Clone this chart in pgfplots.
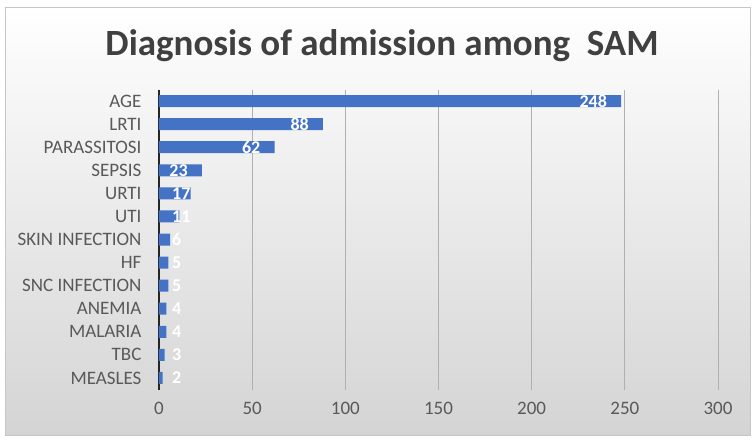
\documentclass[border=0pt]{standalone}
\usepackage{pgfplots}
\pgfplotsset{compat=1.18}
\usepackage{pgfplotstable}
\usepackage{fontspec}
\setmainfont{Carlito}

\definecolor{barblue}{HTML}{4472C4}
\definecolor{labelgray}{HTML}{595959}
\definecolor{titlegray}{HTML}{404040}
\definecolor{bggray}{HTML}{D4D4D4}
\definecolor{gridgray}{HTML}{B0B0B0}

% admissions by diagnosis, top to bottom
\pgfplotstableread{
idx value
0  248
1  88
2  62
3  23
4  17
5  11
6  6
7  5
8  5
9  4
10 4
11 3
12 2
}\diagdata

\begin{document}
\begin{tikzpicture}
    % chart area background
    \fill[white] (0pt,0pt) rectangle (755pt,440pt);
    \shade[top color=white, bottom color=bggray] (5pt,5pt) rectangle (750pt,433pt);
    \draw[gray!45, line width=0.8pt] (5pt,5pt) rectangle (750pt,433pt);

    \node[font=\bfseries\fontsize{37}{37}\selectfont, text=titlegray] at (382pt,394pt)
        {Diagnosis of admission among\ \ SAM};

    \begin{axis}[
            at={(159pt,50.5pt)}, anchor=south west,
            scale only axis,
            width=559pt, height=300pt,
            xbar, bar width=12pt,
            xmin=0, xmax=300,
            xtick={0,50,...,300},
            ymin=-0.5, ymax=12.5,
            y dir=reverse,
            ytick={0,...,12},
            yticklabels={AGE,LRTI,PARASSITOSI,SEPSIS,URTI,UTI,SKIN INFECTION,HF,SNC INFECTION,ANEMIA,MALARIA,TBC,MEASLES},
            axis lines*=left,
            x axis line style={draw=none},
            y axis line style={draw=black!85, line width=2.2pt, -},
            major tick length=0pt,
            xmajorgrids,
            grid style={gridgray, line width=0.9pt},
            tick label style={font=\fontsize{19}{19}\selectfont, text=labelgray},
            /pgf/number format/assume math mode=true,
            xticklabel style={yshift=-9pt},
            yticklabel style={xshift=-14pt},
            clip=false,
        ]

        \addplot[
            fill=barblue, draw=none,
            nodes near coords,
            visualization depends on={rawx \as \rawx},
            every node near coord/.append style={
                font=\bfseries\fontsize{18}{18}\selectfont, text=white, inner sep=0pt,
                /utils/exec={\ifdim\rawx pt<20pt
                        \pgfkeysalso{/tikz/anchor=west,/tikz/xshift={13pt-1.863pt*\rawx}}%
                    \else
                        \pgfkeysalso{/tikz/anchor=east,/tikz/xshift=-14pt}%
                    \fi},
            },
        ] table[x=value, y=idx] {\diagdata};

    \end{axis}
\end{tikzpicture}
\end{document}
